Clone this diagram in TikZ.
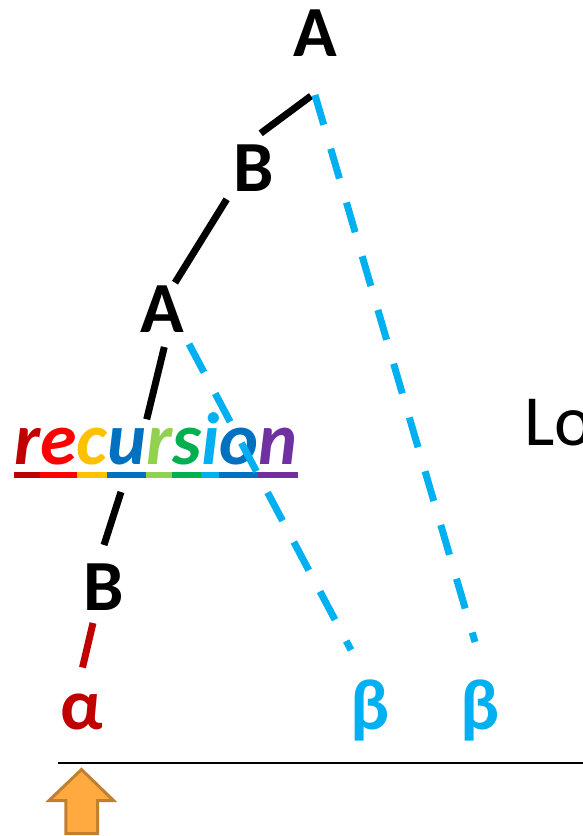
\documentclass[tikz,border=0pt]{standalone}
\usepackage{fontspec}
\setmainfont{Carlito}
\definecolor{cred}{HTML}{C00000}
\definecolor{cblue}{HTML}{00B0F0}
\definecolor{rA}{HTML}{C00000}
\definecolor{rB}{HTML}{FF0000}
\definecolor{rC}{HTML}{FFC000}
\definecolor{rD}{HTML}{0070C0}
\definecolor{rE}{HTML}{92D050}
\definecolor{rF}{HTML}{00B050}
\definecolor{rG}{HTML}{00B0F0}
\definecolor{rH}{HTML}{7030A0}
\definecolor{arrfill}{RGB}{255,170,64}
\definecolor{arrline}{RGB}{192,128,48}
\newlength\ulw
\newcommand\ulet[2]{\settowidth\ulw{#2}{\color{#1}\rlap{\rule[-13.8pt]{\ulw}{6.3pt}}#2}}
\begin{document}
\begin{tikzpicture}[x=1pt,y=-1pt,
  lbl/.style={inner sep=0pt,anchor=base,font=\fontsize{72}{80}\selectfont\bfseries},
  tree/.style={line width=7pt,line cap=butt},
  back/.style={tree,cblue,dash pattern=on 31pt off 25pt},
  backb/.style={tree,cblue,dash pattern=on 32pt off 24pt}]
\useasboundingbox (0,0) rectangle (583,836);
\begin{scope}
\clip (0,0) rectangle (583,836);
% labels
\node[lbl] (A1) at (315.3,56) {A};
\node[lbl] (B1) at (253.3,191.5) {B};
\node[lbl] (A2) at (162,332) {A};
\node[lbl] (B2) at (103.3,610.5) {B};
\node[lbl,text=cred] (alpha) at (82,729) {α};
\node[lbl,text=cblue] (beta1) at (370,729) {β};
\node[lbl,text=cblue] (beta2) at (480.3,729) {β};
\node[inner sep=0pt,anchor=base west,font=\fontsize{72}{80}\selectfont] (lo) at (524,445) {Lo};
% connector end points
\coordinate (a1s) at (311,96);
\coordinate (b1n) at (260.7,133.3);
\coordinate (b1s) at (226.7,199.3);
\coordinate (a2n) at (175,282.7);
\coordinate (a2s) at (164.3,347);
\coordinate (recn) at (146.7,419.3);
\coordinate (recs) at (121,492);
\coordinate (b2n) at (104,545);
\coordinate (b2s) at (93,623);
\coordinate (alphan) at (82.5,667.5);
\coordinate (a1r) at (315,95);
\coordinate (beta2n) at (475,642);
\coordinate (a2r) at (189,344);
\coordinate (beta1n) at (351,650);
% black tree
\draw[tree] (a1s) -- (b1n);
\draw[tree] (b1s) -- (a2n);
\draw[tree] (a2s) -- (recn);
\draw[tree] (recs) -- (b2n);
\draw[tree,cred] (b2s) -- (alphan);
% recursion word
\node[inner sep=0pt,anchor=base west,font=\fontsize{74}{82}\selectfont\bfseries\itshape] (rec) at (14,464)
 {\ulet{rA}{r}\ulet{rB}{e}\ulet{rC}{c}\ulet{rD}{u}\ulet{rE}{r}\ulet{rF}{s}\ulet{rG}{i}\ulet{rD}{o}\ulet{rH}{n}};
% dashed links
\draw[back] (a1r) -- (beta2n);
\draw[backb] (a2r) -- (beta1n);
% baseline
\coordinate (hl) at (58,763);
\coordinate (hr) at (590,763);
\draw[line width=2.6pt] (hl) -- (hr);
% arrow
\draw[line width=3pt,fill=arrfill,draw=arrline,line join=miter]
 (81.5,769.5) -- (113.5,800.5) -- (97.5,800.5) -- (97.5,833.5) -- (65.8,833.5) -- (65.8,800.5) -- (49,800.5) -- cycle;
\end{scope}
\end{tikzpicture}
\end{document}
